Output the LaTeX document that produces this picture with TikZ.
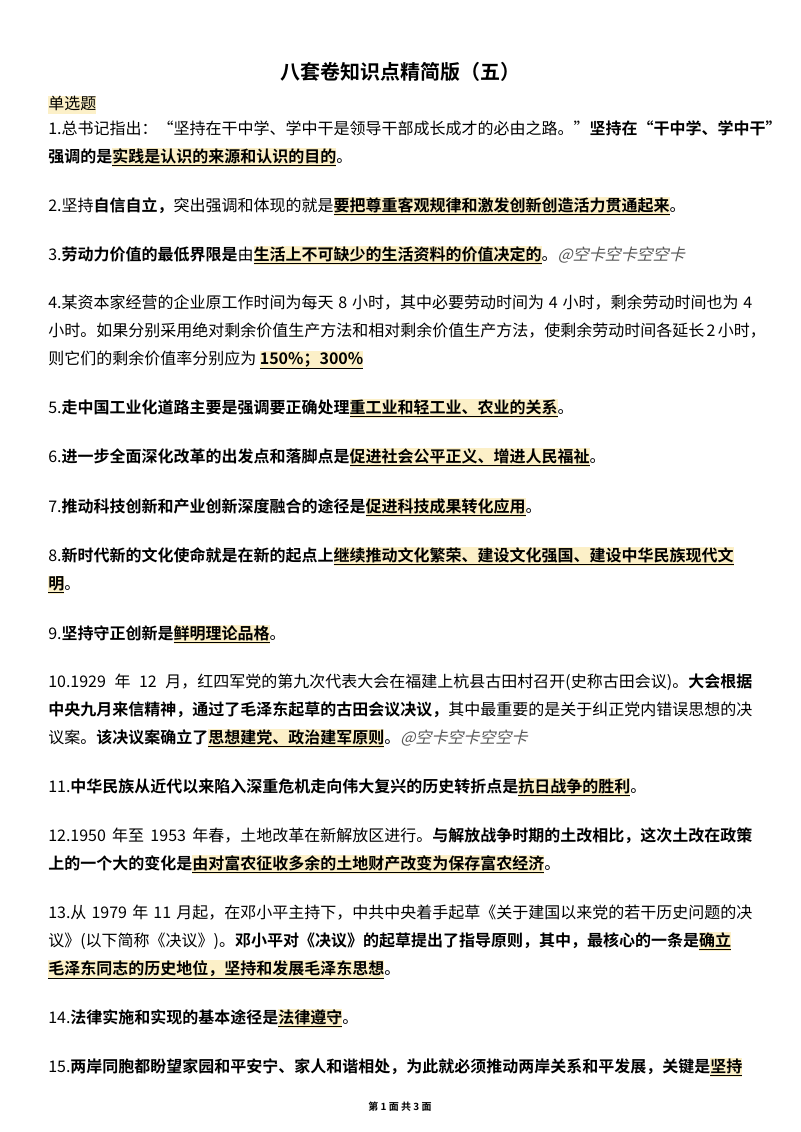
\documentclass[tikz,border=0pt]{standalone}
\usepackage{fontspec}
\setmainfont{Noto Sans CJK SC}[BoldFont={Noto Sans CJK SC Bold}]
\newfontfamily\wmfont{Noto Sans CJK SC}[FakeSlant=0.25]
\XeTeXlinebreaklocale "zh"
\XeTeXlinebreakskip=0pt plus 2pt
\definecolor{hly}{HTML}{FCF0C8}
\definecolor{wmc}{HTML}{555555}
\newcommand\hlt[1]{{\setlength\fboxsep{0pt}\colorbox{hly}{\rule[-3.5pt]{0pt}{13pt}\textbf{\underline{#1}}}}}
\newcommand\wmk{{\wmfont\color{wmc}@空卡空卡空空卡}}
\newcommand\jl[1]{\makebox[528pt][s]{#1}}
\tikzset{ln/.style={anchor=base west,inner sep=0pt,font=\fontsize{12pt}{14pt}\selectfont}}
\begin{document}
\begin{tikzpicture}[x=0.75pt,y=-0.75pt]
\useasboundingbox (0,0) rectangle (800,1132);
\node[anchor=base,inner sep=0pt,font=\fontsize{15pt}{18pt}\selectfont\bfseries] (t) at (400,79) {八套卷知识点精简版（五）};
\node[ln] (h) at (48,109) {{\setlength\fboxsep{0pt}\colorbox{hly}{\rule[-3.5pt]{0pt}{13pt}单选题}}};
\node[ln] (a1) at (48,134) {\jl{1.总书记指出：“坚持在干中学、学中干是领导干部成长成才的必由之路。”\textbf{坚持在“干中学、学中干”}}};
\node[ln] (a2) at (48,162) {\textbf{强调的是}\hlt{实践是认识的来源和认识的目的}。};
\node[ln] (b1) at (48,211) {2.坚持\textbf{自信自立，}突出强调和体现的就是\hlt{要把尊重客观规律和激发创新创造活力贯通起来}。};
\node[ln] (c1) at (48,260) {3.\textbf{劳动力价值的最低界限是}由\hlt{生活上不可缺少的生活资料的价值决定的}。\wmk};
\node[ln] (d1) at (48,308) {\jl{4.某资本家经营的企业原工作时间为每天 8 小时，其中必要劳动时间为 4 小时，剩余劳动时间也为 4}};
\node[ln] (d2) at (48,336) {\jl{小时。如果分别采用绝对剩余价值生产方法和相对剩余价值生产方法，使剩余劳动时间各延长 2 小时，}};
\node[ln] (d3) at (48,364) {则它们的剩余价值率分别应为 \hlt{150\%；300\%}};
\node[ln] (e1) at (48,413) {5.\textbf{走中国工业化道路主要是强调要正确处理}\hlt{重工业和轻工业、农业的关系}。};
\node[ln] (f1) at (48,462) {6.\textbf{进一步全面深化改革的出发点和落脚点是}\hlt{促进社会公平正义、增进人民福祉}。};
\node[ln] (g1) at (48,512) {7.\textbf{推动科技创新和产业创新深度融合的途径是}\hlt{促进科技成果转化应用}。};
\node[ln] (h1) at (48,561) {8.\textbf{新时代新的文化使命就是在新的起点上}\hlt{继续推动文化繁荣、建设文化强国、建设中华民族现代文}};
\node[ln] (h2) at (48,589) {\hlt{明}。};
\node[ln] (i1) at (48,639) {9.\textbf{坚持守正创新是}\hlt{鲜明理论品格}。};
\node[ln] (j1) at (48,687) {\jl{10.1929 年 12 月，红四军党的第九次代表大会在福建上杭县古田村召开(史称古田会议)。\textbf{大会根据}}};
\node[ln] (j2) at (48,715) {\jl{\textbf{中央九月来信精神，通过了毛泽东起草的古田会议决议，}其中最重要的是关于纠正党内错误思想的决}};
\node[ln] (j3) at (48,743) {议案。\textbf{该决议案确立了}\hlt{思想建党、政治建军原则}。\wmk};
\node[ln] (k1) at (48,792) {11.\textbf{中华民族从近代以来陷入深重危机走向伟大复兴的历史转折点是}\hlt{抗日战争的胜利}。};
\node[ln] (l1) at (48,841) {\jl{12.1950 年至 1953 年春，土地改革在新解放区进行。\textbf{与解放战争时期的土改相比，这次土改在政策}}};
\node[ln] (l2) at (48,869) {\textbf{上的一个大的变化是}\hlt{由对富农征收多余的土地财产改变为保存富农经济}。};
\node[ln] (m1) at (48,918) {\jl{13.从 1979 年 11 月起，在邓小平主持下，中共中央着手起草《关于建国以来党的若干历史问题的决}};
\node[ln] (m2) at (48,946) {\jl{议》(以下简称《决议》)。\textbf{邓小平对《决议》的起草提出了指导原则，其中，最核心的一条是}\hlt{确立}}};
\node[ln] (m3) at (48,974) {\hlt{毛泽东同志的历史地位，坚持和发展毛泽东思想}。};
\node[ln] (n1) at (48,1023) {14.\textbf{法律实施和实现的基本途径是}\hlt{法律遵守}。};
\node[ln] (o1) at (48,1072) {\jl{15.\textbf{两岸同胞都盼望家园和平安宁、家人和谐相处，为此就必须推动两岸关系和平发展，关键是}\hlt{坚持}}};
\node[anchor=base,inner sep=0pt,font=\fontsize{7.5pt}{9pt}\selectfont\bfseries] (ft) at (400,1110) {第 1 面 共 3 面};
\end{tikzpicture}
\end{document}
